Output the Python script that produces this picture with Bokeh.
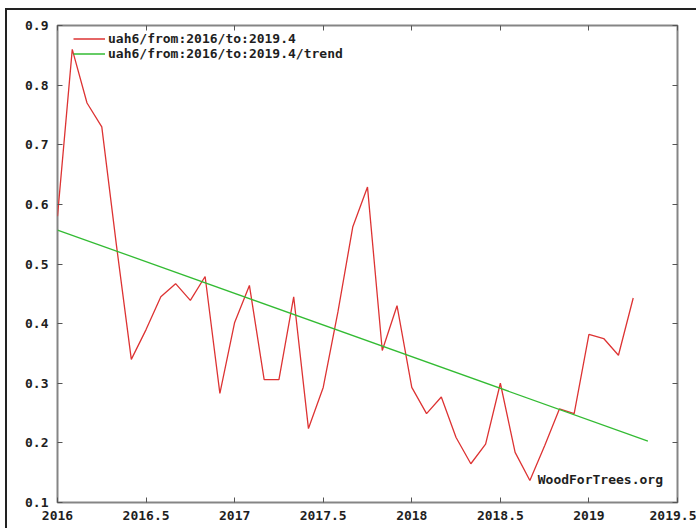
from bokeh.plotting import figure
from bokeh.models import Range1d, LinearAxis, FixedTicker, Label, Legend, LegendItem
from bokeh.embed import file_html
from bokeh.resources import INLINE
import numpy as np

# ---- data ----
start_year = 2016.0
uah6 = [0.58, 0.86, 0.77, 0.73, 0.53, 0.34, 0.39, 0.445, 0.467, 0.439,
        0.479, 0.283, 0.402, 0.464, 0.306, 0.306, 0.445, 0.224, 0.293, 0.42,
        0.562, 0.629, 0.355, 0.430, 0.293, 0.249, 0.277, 0.209, 0.165, 0.198,
        0.300, 0.184, 0.137, 0.195, 0.257, 0.249, 0.382, 0.375, 0.347, 0.443]
trend_x = [2016.0, 2019.333]
trend_y = [0.557, 0.203]

x_ticks = [2016, 2016.5, 2017, 2017.5, 2018, 2018.5, 2019, 2019.5]
x_tick_labels = ["2016", "2016.5", "2017", "2017.5", "2018", "2018.5", "2019", "2019.5"]
y_ticks = [0.1, 0.2, 0.3, 0.4, 0.5, 0.6, 0.7, 0.8, 0.9]
y_tick_labels = ["0.1", "0.2", "0.3", "0.4", "0.5", "0.6", "0.7", "0.8", "0.9"]

series_label = "uah6/from:2016/to:2019.4"
trend_label = "uah6/from:2016/to:2019.4/trend"
watermark = "WoodForTrees.org"

months_x = start_year + np.arange(len(uah6)) / 12.0

FONT = "DejaVu Sans Mono"
TXT = "#1e1e1e"

p = figure(frame_width=620, frame_height=477,
           x_range=Range1d(2016, 2019.5), y_range=Range1d(0.1, 0.9),
           output_backend="svg", toolbar_location=None,
           min_border_left=50, min_border_right=19,
           min_border_top=15, min_border_bottom=26,
           background_fill_color="white", border_fill_color="white")
p.styles = {"border-top": "2px solid #222", "border-left": "2px solid #222",
            "margin-top": "8px", "margin-left": "5px"}

p.xgrid.visible = False
p.ygrid.visible = False
p.outline_line_color = "#858585"
p.outline_line_width = 2

def style_axis(ax):
    ax.axis_line_color = None
    ax.major_tick_in = 5
    ax.major_tick_out = 0
    ax.minor_tick_in = 5
    ax.minor_tick_out = 0
    ax.major_tick_line_color = "#555555"
    ax.minor_tick_line_color = "#555555"
    ax.major_tick_line_width = 1
    ax.minor_tick_line_width = 1
    ax.major_label_text_font = FONT
    ax.major_label_text_font_style = "bold"
    ax.major_label_text_font_size = "13px"
    ax.major_label_text_color = TXT

xax = p.xaxis[0]
xax.ticker = FixedTicker(ticks=x_ticks)
xax.major_label_overrides = dict(zip(x_ticks, x_tick_labels))
xax.major_label_standoff = 8
style_axis(xax)

yax = p.yaxis[0]
yax.ticker = FixedTicker(ticks=y_ticks)
yax.major_label_overrides = dict(zip(y_ticks, y_tick_labels))
yax.major_label_standoff = 9
style_axis(yax)

# mirrored tick marks (minor ticks only, so no labels are drawn)
top_ax = LinearAxis(ticker=FixedTicker(ticks=[], minor_ticks=x_ticks))
style_axis(top_ax)
p.add_layout(top_ax, "above")
right_ax = LinearAxis(ticker=FixedTicker(ticks=[], minor_ticks=y_ticks))
style_axis(right_ax)
p.add_layout(right_ax, "right")

r_data = p.line(months_x, uah6, line_color="#dd3333", line_width=1.3)
r_trend = p.line(trend_x, trend_y, line_color="#33bb33", line_width=1.3)

legend = Legend(items=[LegendItem(label=series_label, renderers=[r_data]),
                       LegendItem(label=trend_label, renderers=[r_trend])],
                location=(16, 441))
legend.background_fill_alpha = 0
legend.border_line_color = None
legend.label_text_font = FONT
legend.label_text_font_style = "bold"
legend.label_text_font_size = "13px"
legend.label_text_line_height = 0.9
legend.label_text_color = TXT
legend.glyph_width = 32
legend.glyph_height = 13
legend.label_height = 13
legend.label_standoff = 3
legend.spacing = 0
legend.padding = 0
legend.margin = 0
p.add_layout(legend, "center")

wm = Label(x=2018.711, y=0.139, text=watermark, text_font=FONT,
           text_font_style="bold", text_font_size="13px", text_color=TXT,
           text_baseline="middle", text_align="left")
p.add_layout(wm)

open("out.html", "w").write(file_html(p, INLINE))
